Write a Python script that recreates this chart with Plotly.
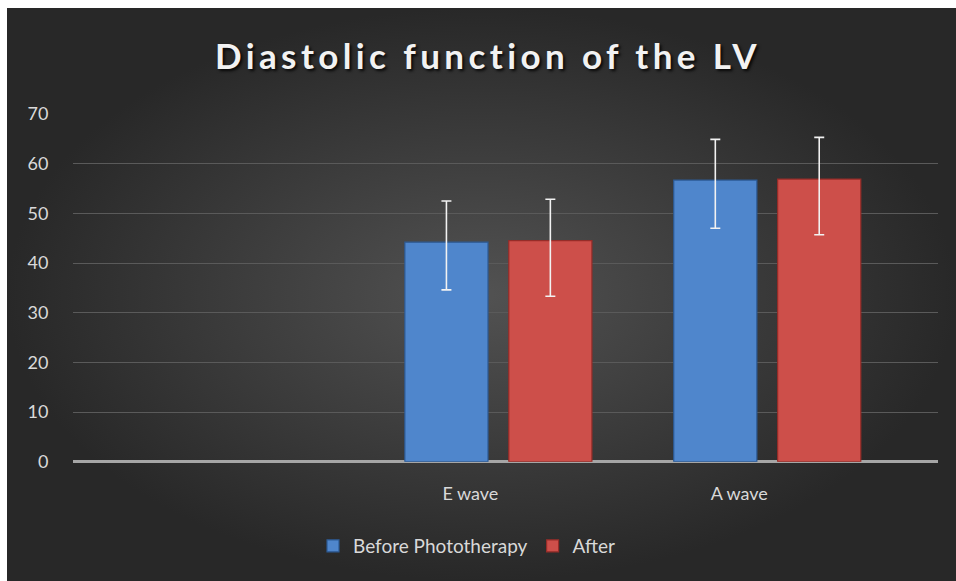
import plotly.graph_objects as go

W, H = 956, 581

categories = ["E wave", "A wave"]
before_vals = [44.2, 56.7]
after_vals = [44.5, 56.9]
before_err_plus = [8.3, 8.2]
before_err_minus = [9.6, 9.7]
after_err_plus = [8.35, 8.4]
after_err_minus = [11.2, 11.2]
series_names = ["Before Phototherapy", "After"]
yticks = [0, 10, 20, 30, 40, 50, 60, 70]

FONT = "Lato, 'Open Sans', sans-serif"
TXT = "#d9d9d9"

fig = go.Figure()

fig.add_trace(go.Scatter(
    x=[0, 1, 1, 0, 0], y=[0, 0, 1, 1, 0], mode="lines",
    line=dict(width=0), fill="toself",
    fillgradient=dict(type="radial", colorscale=[[0, "#525252"], [1, "#282828"]]),
    hoverinfo="skip", showlegend=False, xaxis="x", yaxis="y"))

fig.add_trace(go.Bar(
    x=categories, y=before_vals, name=series_names[0],
    marker=dict(color="#4f86cc", line=dict(color="#2c5a94", width=1.2)),
    error_y=dict(type="data", symmetric=False, array=before_err_plus,
                 arrayminus=before_err_minus, color="#f2f2f2", thickness=1.6, width=5),
    xaxis="x2", yaxis="y2"))
fig.add_trace(go.Bar(
    x=categories, y=after_vals, name=series_names[1],
    marker=dict(color="#cd4f4a", line=dict(color="#962c28", width=1.2)),
    error_y=dict(type="data", symmetric=False, array=after_err_plus,
                 arrayminus=after_err_minus, color="#f2f2f2", thickness=1.6, width=5),
    xaxis="x2", yaxis="y2"))

fig.update_layout(
    width=W, height=H,
    margin=dict(l=0, r=0, t=0, b=0, pad=0),
    paper_bgcolor="white",
    plot_bgcolor="rgba(0,0,0,0)",
    barmode="group", bargap=0.227, bargroupgap=0.2,
    font=dict(family=FONT, color=TXT, size=18),
    xaxis=dict(domain=[7 / W, 1], range=[0, 1], visible=False, fixedrange=True, automargin=False),
    yaxis=dict(domain=[0, 1 - 8 / H], range=[0, 1], visible=False, fixedrange=True, automargin=False),
    xaxis2=dict(domain=[72.5 / W, 938 / W], anchor="y2", range=[-1.584, 1.635],
                showgrid=False, zeroline=False, showline=False, ticks="", automargin=False,
                ticklabelshift=-28, ticklabelstandoff=19,
                tickfont=dict(size=18, color=TXT, family=FONT)),
    yaxis2=dict(domain=[1 - 461.7 / H, 1 - 114 / H], anchor="x2", range=[0, 70],
                tickvals=yticks, showgrid=True, gridcolor="#5a5a5a", gridwidth=1,
                zeroline=True, zerolinecolor="#a6a6a6", zerolinewidth=2.5, automargin=False,
                showline=False, ticks="", ticklabelstandoff=23,
                tickfont=dict(size=18, color=TXT, family=FONT)),
    legend=dict(orientation="h", x=467 / W, xanchor="center", y=1 - 546 / H, yanchor="middle",
                font=dict(size=19, color=TXT, family=FONT), bgcolor="rgba(0,0,0,0)",
                traceorder="normal"),
    title=dict(text="<b>Diastolic function of the LV</b>", x=488 / W, xanchor="center",
               y=1 - 57 / H, yanchor="middle", automargin=False,
               font=dict(size=35, color="#f2f2f2", family=FONT,
                         shadow="2px 2px 3px rgba(0,0,0,0.85)")),
)

post = """
(function(){
  function fix(){
    document.body.style.margin='0';
    document.querySelectorAll('.gtitle').forEach(function(e){e.style.letterSpacing='4.4px';});
  }
  fix();
  setTimeout(fix, 50);
})();
"""

fig.write_html("out.html", post_script=post, config={"displayModeBar": False})
